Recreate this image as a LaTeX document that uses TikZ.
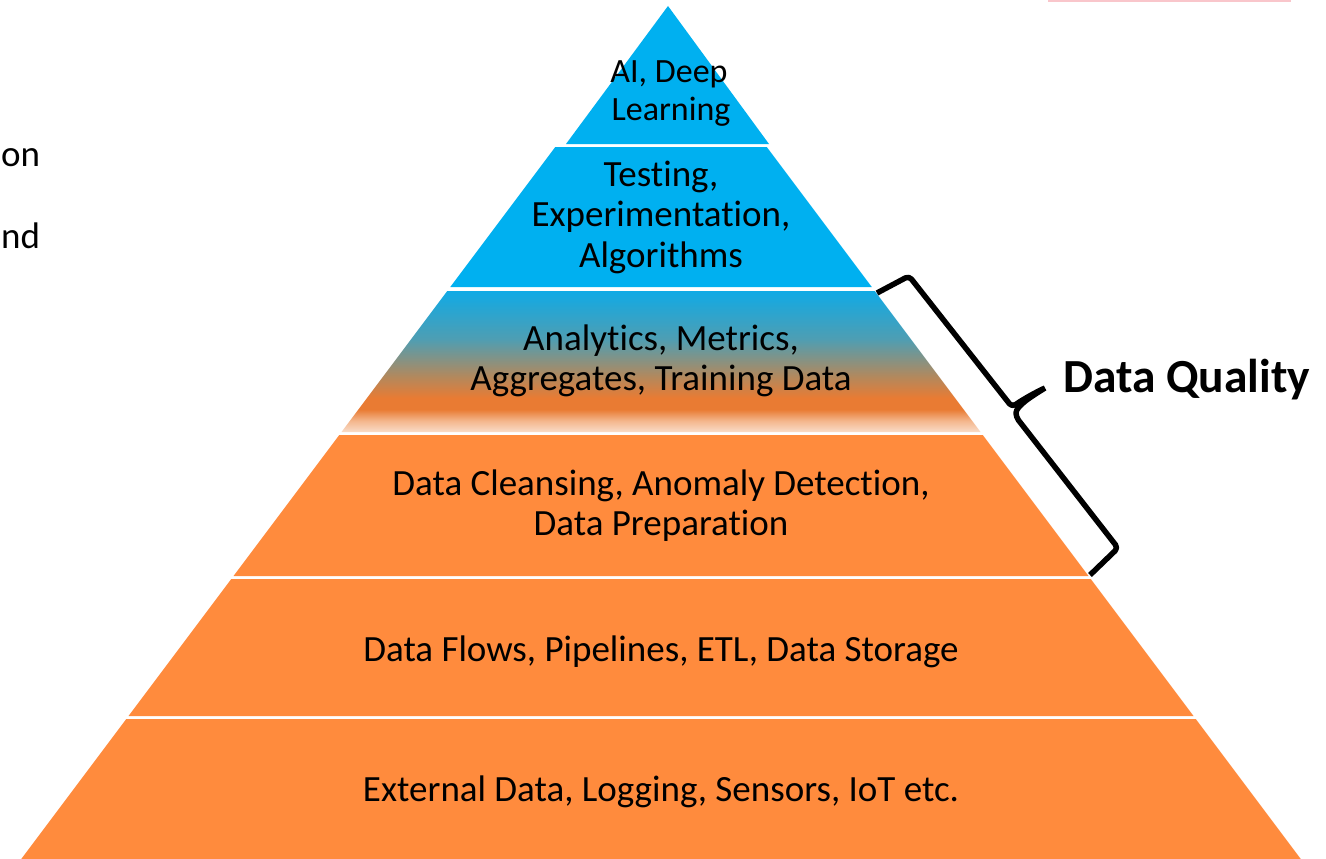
\documentclass[tikz,border=0pt]{standalone}
\usepackage{fontspec}
\setmainfont[Ligatures=NoCommon]{Carlito}
\definecolor{pblue}{HTML}{00B0F0}
\definecolor{porange}{HTML}{FF8B3D}
\definecolor{gpeach}{HTML}{F9DCC8}
\definecolor{gpeach2}{HTML}{F4B68C}
\definecolor{gorange}{HTML}{E97B33}
\definecolor{gbrown}{HTML}{B0895F}
\definecolor{gteal}{HTML}{4E9EB3}
\definecolor{gblue}{HTML}{10AAE5}
\definecolor{pinkline}{HTML}{F9C6CB}
\pgfdeclareverticalshading{dqshade}{100bp}{color(0bp)=(gpeach); color(25bp)=(gpeach); color(29bp)=(gpeach2); color(33bp)=(gorange); color(37bp)=(gorange); color(45bp)=(gbrown); color(58bp)=(gteal); color(75bp)=(gblue); color(100bp)=(gblue)}
\tikzset{
  lbl/.style={anchor=base, inner sep=0pt, font=\fontsize{37}{40}\selectfont},
  toplbl/.style={anchor=base, inner sep=0pt, font=\fontsize{34}{38}\selectfont},
  sidelbl/.style={anchor=base west, inner sep=0pt, font=\fontsize{37}{44}\selectfont},
  dqlbl/.style={anchor=base west, inner sep=0pt, font=\bfseries\fontsize{47.5}{52}\selectfont},
  bluelayer/.style={fill=pblue},
  orangelayer/.style={fill=porange},
  bracestyle/.style={draw=black, line width=5.5pt, line join=round, line cap=butt, rounded corners=4pt}
}
\begin{document}
\begin{tikzpicture}[x=1pt,y=-1pt]
\useasboundingbox (0,0) rectangle (1326,859);
\fill[white] (0,0) rectangle (1326,859);
% top-right pink strip
\fill[pinkline] (1048,0) rectangle (1291,2.5);
% layers
\fill[bluelayer] (668,6) -- (769,144) -- (566,144) -- cycle;
\fill[bluelayer] (555.25,147) -- (766.75,147) -- (871.75,287) -- (450.25,287) -- cycle;
\shade[shading=dqshade] (447.25,291) -- (874.75,291) -- (980.5,432) -- (341.5,432) -- cycle;
\fill[orangelayer] (339.25,435) -- (982.75,435) -- (1088.5,576) -- (233.5,576) -- cycle;
\fill[orangelayer] (231.25,579) -- (1090.75,579) -- (1193.5,716) -- (128.5,716) -- cycle;
\fill[orangelayer] (126.25,719) -- (1195.75,719) -- (1300.75,859) -- (21.25,859) -- cycle;
% texts
\node[toplbl] (t1a) at (669,83) {AI, Deep};
\node[toplbl] (t1b) at (671,121) {Learning};
\node[lbl] (t2a) at (661,186) {Testing,};
\node[lbl] (t2b) at (661,226) {Experimentation,};
\node[lbl] (t2c) at (661,267) {Algorithms};
\node[lbl] (t3a) at (661,350) {Analytics, Metrics,};
\node[lbl] (t3b) at (661,390) {Aggregates, Training Data};
\node[lbl] (t4a) at (661,495) {Data Cleansing, Anomaly Detection,};
\node[lbl] (t4b) at (661,535) {Data Preparation};
\node[lbl] (t5) at (661,661) {Data Flows, Pipelines, ETL, Data Storage};
\node[lbl] (t6) at (661,801) {External Data, Logging, Sensors, IoT etc.};
\node[sidelbl] (s1) at (1,166) {on};
\node[sidelbl] (s2) at (1,248) {nd};
\node[dqlbl] (dq) at (1063,392) {Data Quality};
% bracket
\draw[bracestyle] (877,293) -- (909,276) -- (1012,407) .. controls (1022,400) and (1036,392) .. (1045,388)
  (1045,388) .. controls (1032,396) and (1016,406) .. (1016,417) -- (1118,548) -- (1090,575);
\end{tikzpicture}
\end{document}
